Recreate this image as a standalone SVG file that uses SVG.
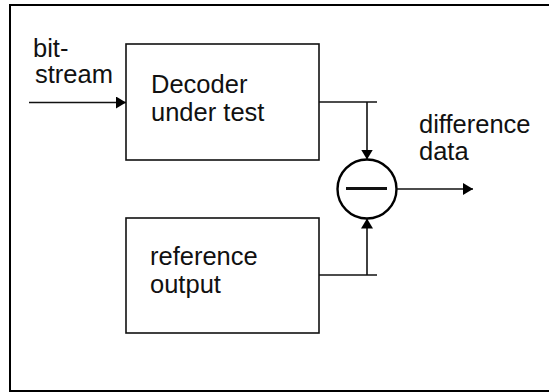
<svg xmlns="http://www.w3.org/2000/svg" width="549" height="392" viewBox="0 0 549 392">
  <style>
    .frame { fill: none; stroke: #000; stroke-width: 2; }
    .box { fill: #fff; stroke: #111; stroke-width: 1.6; }
    .line { fill: none; stroke: #111; stroke-width: 1.6; }
    .sum { fill: #fff; stroke: #000; stroke-width: 2.4; }
    .minus { stroke: #111; stroke-width: 2.8; }
    text { font-family: "Liberation Sans", Arial, sans-serif; font-size: 25.5px; fill: #111; }
  </style>
  <defs>
    <marker id="arrow" viewBox="0 0 10 12" refX="10" refY="6" markerWidth="10" markerHeight="12" markerUnits="userSpaceOnUse" orient="auto">
      <path d="M0,0 L10,6 L0,12 Z" fill="#000"/>
    </marker>
  </defs>
  <rect width="549" height="392" fill="#fff"/>
  <rect class="frame" x="10" y="5" width="545" height="386"/>

  <g id="decoder">
    <rect class="box" x="126" y="44" width="193" height="116"/>
    <text x="151" y="92.5">Decoder</text>
    <text x="151" y="121">under test</text>
  </g>

  <g id="reference">
    <rect class="box" x="126" y="218" width="193" height="115"/>
    <text x="150" y="265">reference</text>
    <text x="150" y="293">output</text>
  </g>

  <g id="subtractor">
    <circle class="sum" cx="367" cy="189" r="29.5"/>
    <line class="minus" x1="346" y1="188.5" x2="387" y2="188.5"/>
  </g>

  <g id="labels">
    <text x="33" y="57">bit-</text>
    <text x="35" y="83">stream</text>
    <text x="419" y="133">difference</text>
    <text x="419" y="160">data</text>
  </g>

  <g id="connectors">
    <line class="line" x1="29" y1="102.5" x2="126" y2="102.5" marker-end="url(#arrow)"/>
    <line class="line" x1="319" y1="102" x2="377" y2="102"/>
    <line class="line" x1="367" y1="102" x2="367" y2="159.5" marker-end="url(#arrow)"/>
    <line class="line" x1="319" y1="275" x2="377" y2="275"/>
    <line class="line" x1="367" y1="275" x2="367" y2="218.5" marker-end="url(#arrow)"/>
    <line class="line" x1="396.5" y1="189" x2="473" y2="189" marker-end="url(#arrow)"/>
  </g>
</svg>
